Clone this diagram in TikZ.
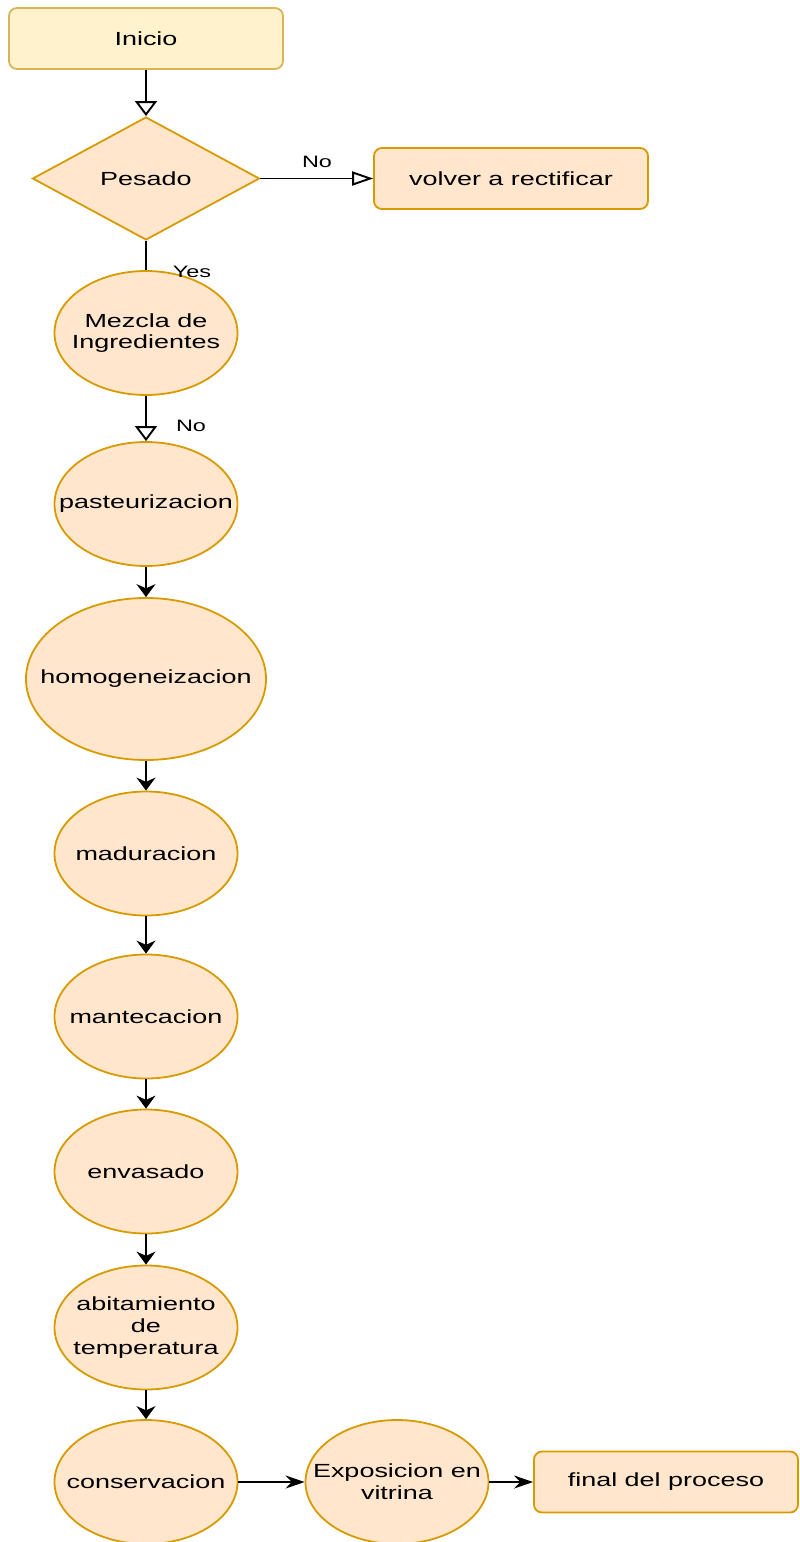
\documentclass[tikz,border=0pt]{standalone}
\usepackage{fontspec}
\setmainfont[FakeStretch=1.42]{Liberation Sans}
\usetikzlibrary{arrows.meta,shapes.geometric}
\definecolor{startfill}{HTML}{FFF2CC}
\definecolor{startline}{HTML}{D6B656}
\definecolor{stepfill}{HTML}{FFE6CC}
\definecolor{stepline}{HTML}{D79B00}

\begin{document}
\begin{tikzpicture}[x=1pt,y=-1pt]
 \tikzstyle{every node}=[font=\fontsize{19}{21.7}\selectfont,align=center]
 \tikzstyle{start}=[draw=startline,fill=startfill,line width=1.8pt,rounded corners=8pt,minimum width=274pt,minimum height=61pt]
 \tikzstyle{box}=[draw=stepline,fill=stepfill,line width=1.8pt,rounded corners=8pt,minimum width=274pt,minimum height=61pt]
 \tikzstyle{decision}=[diamond,draw=stepline,fill=stepfill,line width=1.8pt,inner sep=0pt,minimum width=227pt,minimum height=123pt]
 \tikzstyle{proc}=[ellipse,draw=stepline,fill=stepfill,line width=1.8pt,inner xsep=-60pt,inner ysep=0pt,minimum width=183pt,minimum height=124pt]
 \tikzstyle{lbl}=[font=\fontsize{16.5}{18}\selectfont,inner sep=0pt]
 \tikzstyle{link}=[line width=1.9pt]
 \useasboundingbox (0,0) rectangle (800,1542);
 \path
 (146,38.5)  node[start] (inicio) {Inicio}
 ++(0,140)   node[decision] (pesado) {Pesado}
 ++(0,154.5) node[proc] (mezcla) {Mezcla de\\Ingredientes}
 ++(0,171)   node[proc] (pasteur) {pasteurizacion}
 ++(0,175)   node[proc,minimum width=240pt,minimum height=162pt] (homog) {homogeneizacion}
 ++(0,174.5) node[proc] (madur) {maduracion}
 ++(0,163)   node[proc] (mantec) {mantecacion}
 ++(0,155)   node[proc] (envas) {envasado}
 ++(0,156)   node[proc] (abit) {abitamiento\\de\\temperatura}
 ++(0,154.5) node[proc] (conserv) {conservacion}
 ++(251,0)   node[proc] (expos) {Exposicion en\\vitrina}
 ++(269,0)   node[box,minimum width=264pt] (final) {final del proceso}
 ;
 \node[box] (volver) at (511,178.5) {volver a rectificar};
 \node[lbl] (nopesado) at (317,162) {No};
 \node[lbl] (yespesado) at (192,272) {Yes};
 \node[lbl] (nomezcla) at (191,426) {No};
 \path[draw,link,-{Triangle[open,length=15pt,width=22pt]}]
 (inicio) edge (pesado)
 (mezcla) edge (pasteur)
 ;
 \path[draw,link,-{Triangle[open,length=21pt,width=14pt]}]
 (pesado) edge (volver)
 ;
 \path[draw,link]
 (pesado) edge (mezcla)
 ;
 \path[draw,link,-{Stealth[length=13pt,width=19pt]}]
 (pasteur) edge (homog)
 (homog) edge (madur)
 (madur) edge (mantec)
 (mantec) edge (envas)
 (envas) edge (abit)
 (abit) edge (conserv)
 ;
 \path[draw,link,-{Stealth[length=19pt,width=13pt]}]
 (conserv) edge (expos)
 (expos) edge (final)
 ;
\end{tikzpicture}
\end{document}
